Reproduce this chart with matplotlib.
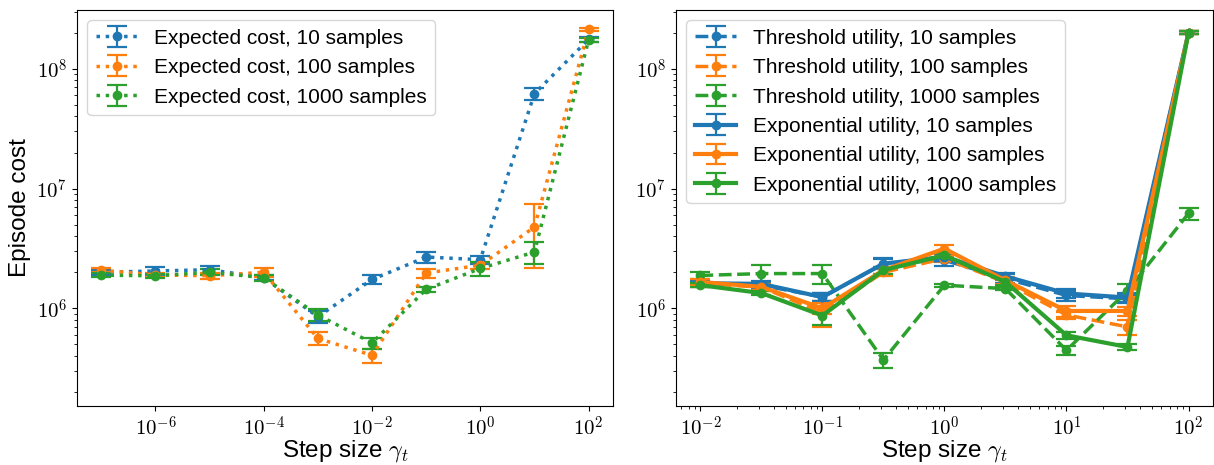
import numpy as np
import matplotlib
matplotlib.use("Agg")
import matplotlib.pyplot as plt
from matplotlib.ticker import FuncFormatter

plt.rcParams["font.family"] = ["Liberation Sans", "DejaVu Sans"]
plt.rcParams["mathtext.fontset"] = "cm"

fontsize = 17.5
tfontsize = 15
lfontsize = 15

# ---- left panel: expected cost ----
steps_left = [1e-7, 1e-6, 1e-5, 1e-4, 1e-3, 1e-2, 1e-1, 1e0, 1e1, 1e2]
exp10 = [2.0e6, 2.05e6, 2.1e6, 1.8e6, 8.5e5, 1.74e6, 2.68e6, 2.55e6, 6.2e7, 1.76e8]
exp10_err = [1.0e5, 1.5e5, 1.5e5, 8e4, 1.0e5, 1.5e5, 3.0e5, 2.0e5, 7e6, 8e6]
exp100 = [2.08e6, 1.9e6, 1.87e6, 2.0e6, 5.6e5, 4.05e5, 1.97e6, 2.29e6, 4.77e6, 2.13e8]
exp100_err = [8e4, 8e4, 1.0e5, 1.7e5, 7e4, 5.5e4, 1.7e5, 1.5e5, 2.6e6, 8e6]
exp1000 = [1.89e6, 1.87e6, 2.0e6, 1.8e6, 8.8e5, 5.14e5, 1.44e6, 2.15e6, 2.95e6, 1.74e8]
exp1000_err = [8e4, 8e4, 1.2e5, 1.0e5, 1.0e5, 5.5e4, 7e4, 3.0e5, 6e5, 6e6]

# ---- right panel: threshold vs exponential utility ----
steps_right = [1e-2, 10**-1.5, 1e-1, 10**-0.5, 1e0, 10**0.5, 1e1, 10**1.5, 1e2]
thr10 = [1.61e6, 1.56e6, 1.24e6, 2.36e6, 2.52e6, 1.77e6, 1.28e6, 1.2e6, 2.0e8]
thr10_err = [1.0e5, 1.0e5, 1.0e5, 2.5e5, 2.5e5, 1.5e5, 1.2e5, 1.0e5, 6e6]
thr100 = [1.62e6, 1.5e6, 0.92e6, 2.0e6, 2.6e6, 1.65e6, 0.88e6, 0.7e6, 2.0e8]
thr100_err = [1.0e5, 1.0e5, 2.2e5, 1.3e5, 1.5e5, 1.0e5, 6e4, 1.0e5, 6e6]
thr1000 = [1.88e6, 1.95e6, 1.95e6, 3.7e5, 1.56e6, 1.46e6, 4.46e5, 1.4e6, 6.2e6]
thr1000_err = [1.2e5, 3.5e5, 3.5e5, 5.5e4, 5e4, 5e4, 3.5e4, 2.0e5, 7e5]
util10 = [1.62e6, 1.6e6, 1.24e6, 2.36e6, 2.69e6, 1.85e6, 1.33e6, 1.23e6, 2.0e8]
util10_err = [8e4, 8e4, 1.0e5, 2.0e5, 2.0e5, 1.2e5, 1.2e5, 1.0e5, 6e6]
util100 = [1.66e6, 1.51e6, 1.0e6, 2.08e6, 3.15e6, 1.71e6, 0.95e6, 0.95e6, 2.0e8]
util100_err = [8e4, 8e4, 1.0e5, 1.5e5, 2.5e5, 1.0e5, 1.0e5, 8e4, 6e6]
util1000 = [1.56e6, 1.34e6, 0.87e6, 2.08e6, 2.77e6, 1.66e6, 5.95e5, 4.75e5, 2.0e8]
util1000_err = [6e4, 6e4, 1.5e5, 1.5e5, 1.5e5, 8e4, 4e4, 3e4, 6e6]

colors = ["tab:blue", "tab:orange", "tab:green"]
ylim = (1.53e5, 3.1e8)


def pow10(v, pos):
    # computer-modern style power-of-ten labels
    return r"$10^{%d}$" % int(round(np.log10(v)))


def main():
    fig = plt.figure(figsize=(12.14, 4.65), dpi=100)
    ax1 = fig.add_axes([0.0634, 0.127, 0.4415, 0.8516])
    ax2 = fig.add_axes([0.5568, 0.127, 0.4423, 0.8516])

    ebkw = dict(lw=2.5, markersize=6, capsize=7, capthick=1.6, elinewidth=1.6)

    left = [(exp10, exp10_err, "10"), (exp100, exp100_err, "100"),
            (exp1000, exp1000_err, "1000")]
    for (y, e, n), c in zip(left, colors):
        ax1.errorbar(steps_left, y, yerr=e, fmt="o:", color=c,
                     label="Expected cost, {} samples".format(n), **ebkw)

    thr = [(thr10, thr10_err, "10"), (thr100, thr100_err, "100"),
           (thr1000, thr1000_err, "1000")]
    util = [(util10, util10_err, "10"), (util100, util100_err, "100"),
            (util1000, util1000_err, "1000")]
    for (y, e, n), c in zip(thr, colors):
        ax2.errorbar(steps_right, y, yerr=e, fmt="o--", color=c,
                     label="Threshold utility, {} samples".format(n), **ebkw)
    ebkw["lw"] = 3
    for (y, e, n), c in zip(util, colors):
        ax2.errorbar(steps_right, y, yerr=e, fmt="o-", color=c,
                     label="Exponential utility, {} samples".format(n), **ebkw)

    for ax in (ax1, ax2):
        ax.set_xscale("log")
        ax.set_yscale("log")
        ax.set_ylim(*ylim)
        ax.xaxis.set_major_formatter(FuncFormatter(pow10))
        ax.yaxis.set_major_formatter(FuncFormatter(pow10))
        ax.tick_params(labelsize=tfontsize)
        ax.set_xlabel(r"Step size $\gamma_t$", fontsize=fontsize, labelpad=-1)
        ax.legend(fontsize=lfontsize, loc="upper left")
    ax1.set_ylabel("Episode cost", fontsize=fontsize)

    fig.savefig("out.png", dpi=100)


if __name__ == "__main__":
    main()
